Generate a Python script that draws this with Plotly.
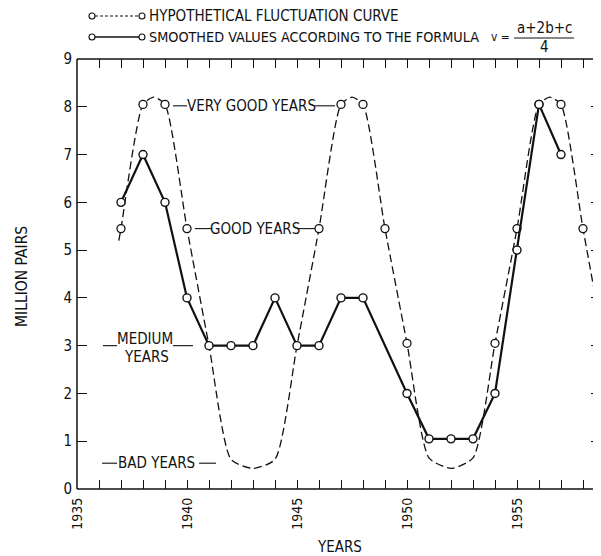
import plotly.graph_objects as go

# ---------------- data ----------------
hyp_curve_years = [1936.9, 1937, 1938, 1938.5, 1939, 1940, 1941, 1942, 1943, 1944, 1945,
                   1946, 1947, 1947.5, 1948, 1949, 1950, 1951, 1952, 1953, 1954,
                   1955, 1956, 1956.5, 1957, 1958, 1958.85]
hyp_curve_values = [5.2, 5.45, 8.05, 8.2, 8.05, 5.45, 3.0, 0.62, 0.43, 0.62, 3.0,
                    5.45, 8.05, 8.2, 8.05, 5.45, 3.05, 0.65, 0.43, 0.65, 3.05,
                    5.45, 8.05, 8.2, 8.05, 5.45, 3.3]

hyp_marker_years = [1937, 1938, 1939, 1940, 1946, 1947, 1948, 1949, 1950, 1954, 1955, 1956, 1957, 1958]
hyp_marker_values = [5.45, 8.05, 8.05, 5.45, 5.45, 8.05, 8.05, 5.45, 3.05, 3.05, 5.45, 8.05, 8.05, 5.45]

smooth_years = [1937, 1938, 1939, 1940, 1941, 1942, 1943, 1944, 1945, 1946, 1947, 1948,
                1950, 1951, 1952, 1953, 1954, 1955, 1956, 1957]
smooth_values = [6, 7, 6, 4, 3, 3, 3, 4, 3, 3, 4, 4,
                 2, 1.05, 1.05, 1.05, 2, 5, 8.05, 7]

x_tick_vals = list(range(1935, 1959))
x_tick_text = [str(y) if y % 5 == 0 else "" for y in x_tick_vals]
y_tick_vals = [0, 1, 2, 3, 4, 5, 6, 7, 8, 9]
y_tick_text = ["0", "1", "2", "3", "4", "5", "6", "7", "8", "9"]

FONT = "DejaVu Sans Condensed, Liberation Sans Narrow, Arial Narrow, sans-serif"
BLACK = "#111111"

fig = go.Figure()

fig.add_trace(go.Scatter(
    x=hyp_curve_years, y=hyp_curve_values, mode="lines",
    line=dict(color=BLACK, width=1.3, dash="8px,4px", shape="spline", smoothing=0.6),
    hoverinfo="skip", showlegend=False))
fig.add_trace(go.Scatter(
    x=hyp_marker_years, y=hyp_marker_values, mode="markers",
    marker=dict(symbol="circle", size=8, color="white", line=dict(color=BLACK, width=1.3)),
    showlegend=False))
fig.add_trace(go.Scatter(
    x=smooth_years, y=smooth_values, mode="lines+markers",
    line=dict(color=BLACK, width=2.2),
    marker=dict(symbol="circle", size=8, color="white", line=dict(color=BLACK, width=1.4)),
    showlegend=False))

# ---------------- decorations ----------------
shapes = []
for (x0, y0, x1, y1) in [(0, 0, 0, 1), (0, 1, 1, 1), (0, 0, 1, 0)]:
    shapes.append(dict(type="line", xref="paper", yref="paper", x0=x0, y0=y0, x1=x1, y1=y1,
                       line=dict(color=BLACK, width=1.5)))

leaders = [
    (1939.36, 1940.0, 8.02), (1945.82, 1946.73, 8.02),
    (1940.36, 1941.14, 5.45), (1945.0, 1945.82, 5.45),
    (1936.18, 1936.82, 3.0), (1939.36, 1940.27, 3.0),
    (1936.14, 1936.82, 0.54), (1940.55, 1941.32, 0.54),
]
for x0, x1, y in leaders:
    shapes.append(dict(type="line", xref="x", yref="y", x0=x0, x1=x1, y0=y, y1=y,
                       line=dict(color=BLACK, width=1.1)))

# screen-pixel -> paper helpers (plot area spans x 77..601, y 59..489 on screen)
W, H0 = 524.0, 430.0
def px_x(p):
    return (p - 77) / W
def px_y(p):
    return (489 - p) / H0

ROW1, ROW2 = 16, 37
for row_y, dash in [(ROW1, "3px,2px"), (ROW2, "solid")]:
    shapes.append(dict(type="line", xref="paper", yref="paper",
                       x0=px_x(95), x1=px_x(139), y0=px_y(row_y), y1=px_y(row_y),
                       line=dict(color=BLACK, width=1.2 if dash != "solid" else 1.6, dash=dash)))
    for cx in (92, 142):
        shapes.append(dict(type="circle", xref="paper", yref="paper",
                           xsizemode="pixel", ysizemode="pixel",
                           xanchor=px_x(cx), yanchor=px_y(row_y),
                           x0=-3, x1=3, y0=-3, y1=3,
                           fillcolor="white", line=dict(color=BLACK, width=1.1)))
shapes.append(dict(type="line", xref="paper", yref="paper",
                   x0=px_x(514), x1=px_x(574), y0=px_y(38), y1=px_y(38),
                   line=dict(color=BLACK, width=1.2)))

annotations = []
def ann(text, x, y, xref="x", yref="y", size=15, xanchor="center", textangle=0):
    annotations.append(dict(text=text, x=x, y=y, xref=xref, yref=yref, showarrow=False,
                            xanchor=xanchor, yanchor="middle", textangle=textangle,
                            borderpad=0,
                            font=dict(family=FONT, size=size, color=BLACK)))

ann("VERY GOOD YEARS", 1942.91, 8.02)
ann("GOOD YEARS", 1943.07, 5.45)
ann("MEDIUM", 1938.07, 3.13)
ann("YEARS", 1938.14, 2.76)
ann("BAD YEARS", 1938.61, 0.54)

ann("HYPOTHETICAL FLUCTUATION CURVE", px_x(148), px_y(ROW1), "paper", "paper", size=15, xanchor="left")
ann("SMOOTHED VALUES ACCORDING TO THE FORMULA", px_x(148), px_y(ROW2), "paper", "paper", size=14.3, xanchor="left")
ann("v =", px_x(511), px_y(ROW2), "paper", "paper", size=12, xanchor="right")
ann("a+2b+c", px_x(544), px_y(28), "paper", "paper", size=15)
ann("4", px_x(544), px_y(47), "paper", "paper", size=15)

ann("YEARS", px_x(339), px_y(547), "paper", "paper", size=15)
ann("MILLION PAIRS", px_x(22), px_y(277), "paper", "paper", size=15.5, textangle=-90)

# the page body has an 8px margin, so the figure is 8px smaller than the window
fig.update_layout(
    width=593, height=548,
    margin=dict(l=69, r=0, t=51, b=67),
    paper_bgcolor="white", plot_bgcolor="white",
    shapes=shapes, annotations=annotations,
    font=dict(family=FONT, size=15, color=BLACK),
    xaxis=dict(range=[1935, 1935 + 524 / 22], tickvals=x_tick_vals, ticktext=x_tick_text,
               ticks="inside", ticklen=9, tickwidth=1, tickcolor=BLACK, mirror="ticks",
               showline=False, showgrid=False, zeroline=False, tickangle=-90,
               ticklabelstandoff=5, tickfont=dict(family=FONT, size=14, color=BLACK)),
    yaxis=dict(range=[0, 9], tickvals=y_tick_vals, ticktext=y_tick_text,
               ticks="inside", ticklen=10, tickwidth=1, tickcolor=BLACK, mirror="ticks",
               showline=False, showgrid=False, zeroline=False,
               ticklabelstandoff=4, tickfont=dict(family=FONT, size=15, color=BLACK)),
)

fig.write_html("out.html")
